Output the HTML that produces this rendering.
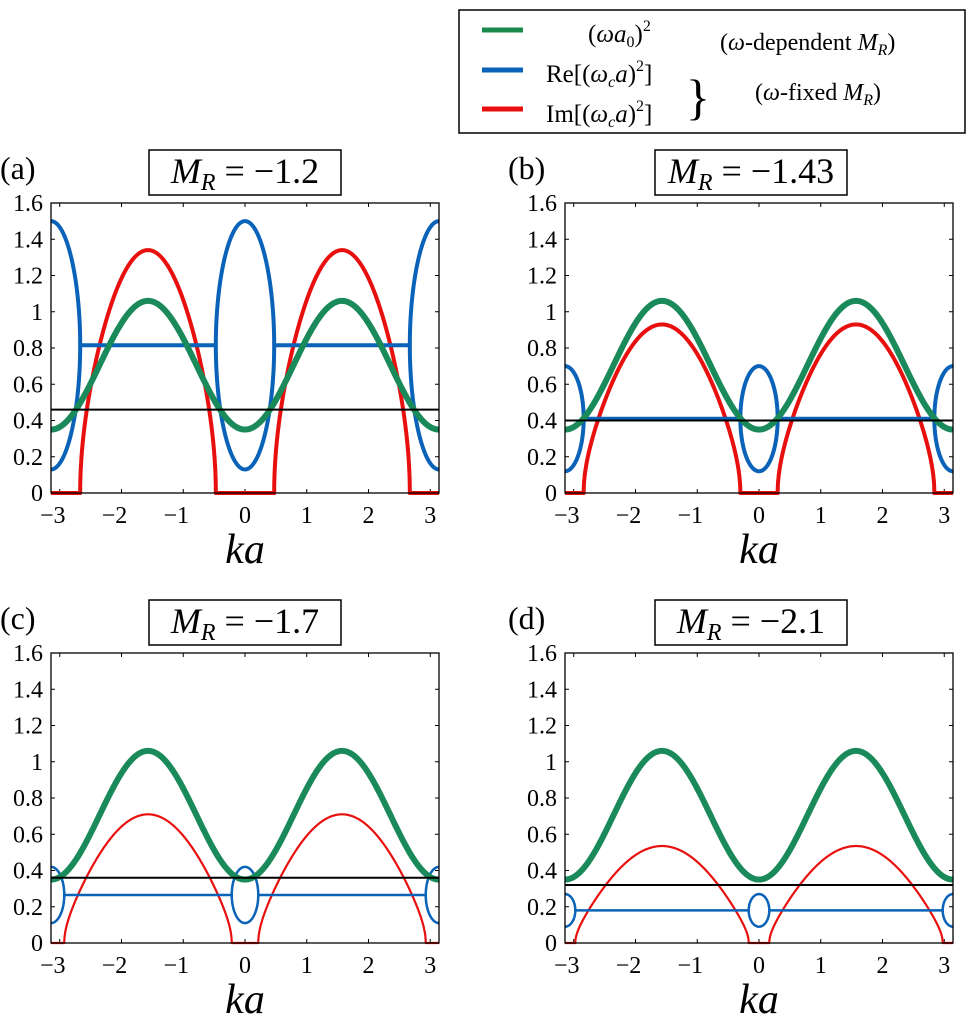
<!DOCTYPE html>
<html><head><meta charset="utf-8">
<style>
body{margin:0;background:#fff;}
svg, svg text, svg tspan{font-family:"Liberation Serif","DejaVu Serif",serif;}
</style></head>
<body>
<svg id="chart" width="973" height="1018" viewBox="0 0 973 1018" xmlns="http://www.w3.org/2000/svg" font-family="Liberation Serif, serif">
<g>
<rect x="459" y="10" width="506" height="123" fill="#fff" stroke="#000" stroke-width="1.5"/>
<line x1="482" y1="30" x2="523" y2="30" stroke="#1a8a4a" stroke-width="5"/>
<line x1="482" y1="70" x2="523" y2="70" stroke="#0a63b8" stroke-width="5"/>
<line x1="482" y1="109" x2="523" y2="109" stroke="#e8100e" stroke-width="5"/>
<text x="588" y="42" font-size="25">(<tspan font-style="italic">ωa</tspan><tspan font-size="16" dy="5">0</tspan><tspan dy="-5">)</tspan><tspan font-size="16" dy="-11">2</tspan></text>
<text x="546" y="82" font-size="25">Re[(<tspan font-style="italic">ω</tspan><tspan font-size="16" font-style="italic" dy="5">c</tspan><tspan font-style="italic" dy="-5">a</tspan>)<tspan font-size="16" dy="-11">2</tspan><tspan dy="11">]</tspan></text>
<text x="546" y="122" font-size="25">Im[(<tspan font-style="italic">ω</tspan><tspan font-size="16" font-style="italic" dy="5">c</tspan><tspan font-style="italic" dy="-5">a</tspan>)<tspan font-size="16" dy="-11">2</tspan><tspan dy="11">]</tspan></text>
<text x="686" y="114" font-size="50">}</text>
<text x="720" y="50" font-size="24">(<tspan font-style="italic">ω</tspan>-dependent <tspan font-style="italic">M</tspan><tspan font-size="16" font-style="italic" dy="5">R</tspan><tspan dy="-5">)</tspan></text>
<text x="755" y="100" font-size="24">(<tspan font-style="italic">ω</tspan>-fixed <tspan font-style="italic">M</tspan><tspan font-size="16" font-style="italic" dy="5">R</tspan><tspan dy="-5">)</tspan></text>
</g>
<g id="panels"></g>
</svg>
<script>
// Data per panel
const panelLabels = ["(a)","(b)","(c)","(d)"];
const mrValues = ["−1.2","−1.43","−1.7","−2.1"];
const reFlat = [0.815, 0.41, 0.265, 0.18];      // real part of complex pair
const reAtZeroTop = [1.5, 0.70, 0.42, 0.27];     // upper real root at ka=0
const imPeak = [1.34, 0.93, 0.71, 0.535];        // Im peak at ka=±π/2
const blackLine = [0.46, 0.40, 0.36, 0.32];
const greenMin = [0.35, 0.35, 0.35, 0.35];
const greenMax = [1.06, 1.06, 1.06, 1.06];
const yTicks = [0,0.2,0.4,0.6,0.8,1,1.2,1.4,1.6];
const yTickLabels = ["0","0.2","0.4","0.6","0.8","1","1.2","1.4","1.6"];
const xTicks = [-3,-2,-1,0,1,2,3];
const xTickLabels = ["−3","−2","−1","0","1","2","3"];

const NS="http://www.w3.org/2000/svg";
const boxes=[{x:51,y:203},{x:565,y:203},{x:51,y:653},{x:565,y:653}];
const W=388,H=290;
const root=document.getElementById('panels');
function mk(tag,attrs,parent){const e=document.createElementNS(NS,tag);for(const k in attrs)e.setAttribute(k,attrs[k]);parent.appendChild(e);return e;}

boxes.forEach((b,i)=>{
  const g=mk('g',{},root);
  
  
  const sx=k=>b.x+(k+Math.PI)/(2*Math.PI)*W;
  const sy=v=>b.y+H-v/1.6*H;
  const clip='clip'+i;
  const cp=mk('clipPath',{id:clip},g);mk('rect',{x:b.x,y:b.y-4,width:W,height:H+8},cp);
  yTicks.forEach((t,j)=>{
    mk('line',{x1:b.x,x2:b.x+4,y1:sy(t),y2:sy(t),stroke:'#000','stroke-width':1},g);
    mk('line',{x1:b.x+W-4,x2:b.x+W,y1:sy(t),y2:sy(t),stroke:'#000','stroke-width':1},g);
    const tx=mk('text',{x:b.x-8,y:sy(t)+8,'font-size':24,'text-anchor':'end'},g);
    tx.textContent=yTickLabels[j];
    
    
  });
  xTicks.forEach((t,j)=>{
    mk('line',{x1:sx(t),x2:sx(t),y1:b.y+H,y2:b.y+H-4,stroke:'#000','stroke-width':1},g);
    mk('line',{x1:sx(t),x2:sx(t),y1:b.y,y2:b.y+4,stroke:'#000','stroke-width':1},g);
    const tx=mk('text',{x:sx(t)-(t<0?7:0),y:b.y+H+30,'font-size':24,'text-anchor':'middle'},g);
    tx.textContent=xTickLabels[j];
    
    
  });
  const xl=mk('text',{x:b.x+W/2,y:b.y+H+70,'font-size':42,'font-style':'italic','text-anchor':'middle'},g);
  xl.textContent='ka';
  
  
  const pl=mk('text',{x:(i%2? b.x-57: b.x-51),y:b.y-24,'font-size':32},g);
  pl.textContent=panelLabels[i];
  
  
  const tcx=b.x+W/2-(i%2?8:0);
  const tb=mk('rect',{x:tcx-96,y:b.y-53,width:192,height:45,fill:'#fff',stroke:'#000','stroke-width':1.5},g);
  
  
  const tt=mk('text',{x:tcx,y:b.y-20,'font-size':36,'text-anchor':'middle'},g);
  tt.innerHTML='<tspan font-style="italic">M</tspan><tspan font-size="24" font-style="italic" dy="7">R</tspan><tspan dy="-7"> = '+mrValues[i]+'</tspan>';
  
  

  const cg=mk('g',{'clip-path':'url(#'+clip+')'},g);
  const c=reFlat[i], s0=reAtZeroTop[i]-c, D0=s0*s0, Dp=-imPeak[i]*imPeak[i];
  const A=(D0+Dp)/2, B=(D0-Dp)/2;
  const D=k=>Math.max(-1e9,A+B*Math.cos(2*k));
  const k0=Math.acos(Math.max(-1,Math.min(1,-A/B)))/2;
  const crossings=[-Math.PI+k0,-k0,k0,Math.PI-k0];
  let ks=[];const N=800;
  for(let n=0;n<=N;n++)ks.push(-Math.PI+2*Math.PI*n/N);
  crossings.forEach(z=>{for(let m=-30;m<=30;m++){const kk=z+m*0.0005;if(kk>=-Math.PI&&kk<=Math.PI)ks.push(kk);}});
  ks.sort((a,b)=>a-b);
  const thin=i>=2;
  const Dv=k=>{let d=A+B*Math.cos(2*k);crossings.forEach(z=>{if(Math.abs(k-z)<1e-9)d=0;});return d;};
  // red
  let rp='';
  ks.forEach((k,n)=>{const d=Dv(k);const v=d<0?Math.sqrt(-d):0;rp+=(n?'L':'M')+sx(k).toFixed(2)+' '+sy(v).toFixed(2);});
  const red=mk('path',{d:rp,fill:'none',stroke:'#e8100e','stroke-width':thin?2.2:4,'stroke-linejoin':'round'},cg);
  
  
  // blue: upper/flat path and lower path
  let bp='',lo='',prev=null;
  ks.forEach((k,n)=>{const d=Dv(k);const v=d<0?c:c+Math.sqrt(d);bp+=(n?'L':'M')+sx(k).toFixed(2)+' '+sy(v).toFixed(2);});
  ks.forEach(k=>{const d=Dv(k);if(d>=0){lo+=(prev?'L':'M')+sx(k).toFixed(2)+' '+sy(c-Math.sqrt(d)).toFixed(2);prev=true;}else prev=false;});
  const blue=mk('path',{d:bp+lo,fill:'none',stroke:'#0a63b8','stroke-width':thin?2.5:4,'stroke-linejoin':'round'},cg);
  
  
  let gp='';const gm=(greenMin[i]+greenMax[i])/2, ga=(greenMax[i]-greenMin[i])/2;
  for(let n=0;n<=N;n++){const k=-Math.PI+2*Math.PI*n/N;gp+=(n?'L':'M')+sx(k).toFixed(2)+' '+sy(gm-ga*Math.cos(2*k)).toFixed(2);}
  const green=mk('path',{d:gp,fill:'none',stroke:'#1a8a5a','stroke-width':6},cg);
  
  
  const bl=mk('line',{x1:b.x,x2:b.x+W,y1:sy(blackLine[i]),y2:sy(blackLine[i]),stroke:'#000','stroke-width':2},cg);
  
  
  const fr=mk('rect',{x:b.x,y:b.y,width:W,height:H,fill:'none',stroke:'#000','stroke-width':1.3},g);
  
  
});
</script>
</body></html>
